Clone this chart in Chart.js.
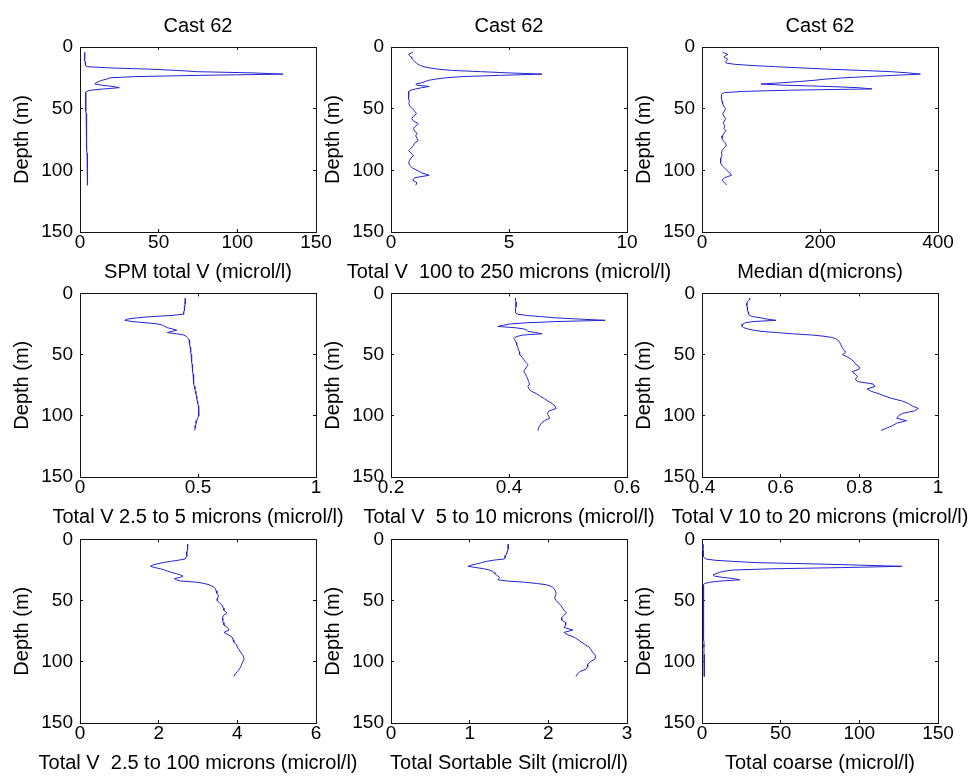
<!DOCTYPE html>
<html>
<head>
<meta charset="utf-8">
<script src="https://cdn.jsdelivr.net/npm/chart.js@4"></script>
<style>
html,body{margin:0;padding:0;background:#fff;overflow:hidden;width:969px;height:776px;position:relative;}
canvas{position:absolute;}
</style>
</head>
<body>
<script>
// ---- data (depth in m) ----
const depths = [4,5,6,7,8,9,10,11,12,13,14,15,16,17,18,19,20,21,22,23,24,25,26,27,28,29,30,31,32,33,34,35,36,37,38,39,40,
  42,44,46,48,50,52,54,56,58,60,62,64,66,68,70,72,74,76,78,80,82,84,86,88,90,92,94,96,98,100,102,104,106,108,110,112];

const spmTotal = [3.2,3,2.8,2.8,2.9,3,3,3.1,3.2,3.3,3.5,3.8,4.5,20,45,62,74,110,129,76,35,19,17,14,12,10,9.5,14,21,25,15,7,4,3.6,3.5,3.5,3.5,
  3.6,3.6,3.7,3.7,3.8,3.8,3.9,3.9,4,4,4,4.1,4.1,4.2,4.2,4.2,4.3,4.3,4.3,4.4,4.4,4.4,4.5,4.5,4.5,4.6,4.6,4.6,4.7,4.7,4.8,4.8,4.9,4.9,5,5];

const vol100to250 = [0.94,0.85,0.75,0.78,0.85,0.88,0.92,0.97,1.02,1.08,1.15,1.25,1.4,1.65,2.0,2.6,3.8,5.0,6.4,4.6,3.0,2.3,1.9,1.6,1.45,1.3,1.05,1.1,1.62,1.3,1.05,0.85,0.75,0.73,0.75,0.75,0.76,
  0.74,0.78,0.76,0.8,0.9,1.0,1.08,0.95,0.88,0.95,1.15,1.05,0.95,1.0,1.1,1.05,1.1,1.15,1.0,0.95,0.85,0.75,0.85,0.95,0.85,0.78,0.75,0.8,0.9,1.1,1.3,1.62,1.0,0.92,1.1,1.05];

const medianD = [35,38,44,40,37,40,44,42,40,41,55,85,125,170,215,270,320,350,370,325,280,240,210,190,165,135,100,140,215,265,288,150,70,38,34,33,33,
  33,34,35,37,40,38,35,37,40,38,36,39,37,41,37,35,34,36,40,41,37,34,33,34,32,31,32,34,38,42,47,50,38,34,38,42];

const vol2p5to5 = [0.447,0.447,0.446,0.446,0.445,0.445,0.444,0.444,0.443,0.442,0.441,0.44,0.44,0.438,0.39,0.3,0.24,0.2,0.19,0.22,0.28,0.33,0.35,0.36,0.37,0.39,0.41,0.39,0.37,0.41,0.44,0.45,0.455,0.46,0.462,0.463,0.464,
  0.466,0.467,0.468,0.47,0.471,0.472,0.473,0.474,0.475,0.476,0.477,0.478,0.479,0.48,0.481,0.482,0.483,0.485,0.487,0.489,0.491,0.493,0.495,0.497,0.499,0.502,0.504,0.504,0.503,0.501,0.498,0.495,0.492,0.49,0.488,0.486];

const vol5to10 = [0.411,0.411,0.411,0.412,0.412,0.412,0.412,0.412,0.411,0.411,0.411,0.411,0.411,0.415,0.43,0.455,0.48,0.52,0.563,0.48,0.43,0.401,0.39,0.381,0.41,0.425,0.43,0.432,0.445,0.456,0.424,0.415,0.41,0.408,0.41,0.411,0.412,
  0.413,0.415,0.416,0.418,0.418,0.422,0.425,0.428,0.432,0.43,0.427,0.425,0.428,0.43,0.432,0.433,0.435,0.432,0.434,0.438,0.447,0.453,0.46,0.466,0.473,0.478,0.48,0.468,0.465,0.467,0.469,0.46,0.455,0.452,0.45,0.449];

const vol10to20 = [0.522,0.521,0.518,0.515,0.514,0.514,0.514,0.515,0.515,0.516,0.516,0.517,0.518,0.519,0.521,0.53,0.55,0.565,0.588,0.53,0.51,0.504,0.502,0.502,0.506,0.516,0.53,0.55,0.59,0.63,0.68,0.71,0.73,0.74,0.745,0.748,0.75,
  0.753,0.756,0.76,0.765,0.757,0.77,0.78,0.787,0.791,0.8,0.799,0.782,0.79,0.795,0.79,0.795,0.835,0.84,0.82,0.83,0.85,0.865,0.885,0.91,0.925,0.935,0.95,0.94,0.91,0.9,0.895,0.92,0.895,0.885,0.87,0.855];

const vol2p5to100 = [2.74,2.74,2.74,2.73,2.73,2.73,2.72,2.72,2.72,2.71,2.7,2.69,2.68,2.5,2.3,2.1,1.96,1.85,1.79,1.9,2.05,2.15,2.23,2.33,2.45,2.55,2.62,2.55,2.4,2.45,2.55,2.98,3.15,3.28,3.34,3.4,3.44,
  3.46,3.48,3.52,3.5,3.49,3.55,3.62,3.64,3.66,3.74,3.65,3.62,3.63,3.64,3.66,3.75,3.79,3.66,3.78,3.87,3.89,3.91,3.98,4.0,4.04,4.08,4.13,4.16,4.17,4.14,4.11,4.09,4.05,4.0,3.95,3.91];

const sortableSilt = [1.49,1.49,1.49,1.49,1.49,1.48,1.48,1.47,1.47,1.46,1.45,1.45,1.44,1.3,1.21,1.15,1.09,1.02,0.98,1.08,1.18,1.25,1.29,1.31,1.32,1.34,1.36,1.38,1.37,1.36,1.48,1.7,1.85,1.97,2.02,2.05,2.07,
  2.09,2.1,2.09,2.08,2.1,2.13,2.16,2.18,2.2,2.23,2.2,2.17,2.17,2.22,2.22,2.2,2.31,2.2,2.25,2.33,2.38,2.42,2.47,2.52,2.54,2.56,2.59,2.6,2.59,2.53,2.5,2.5,2.48,2.4,2.37,2.35];

const totalCoarse = [0.6,0.6,0.6,0.6,0.6,0.7,0.7,0.8,0.9,1,1.2,1.5,2.5,8,20,35,70,100,127,90,45,20,14,11,9,7,8,13,20,24,12,5,1.7,1,0.8,0.8,0.8,
  0.8,0.9,0.8,0.9,1,0.9,1,1.1,1,0.9,1,1.1,1,1.1,1.2,1.1,1,1.1,1.2,1.1,1.2,1.3,1.2,1.2,1.3,1.2,1.3,1.4,1.3,1.4,1.5,1.6,1.4,1.5,1.5,1.6];

// ---- tick labels ----
const depthTicks = [0, 50, 100, 150];
const ticksSpm = [0, 50, 100, 150];
const ticks100to250 = [0, 5, 10];
const ticksMedian = [0, 200, 400];
const ticks2p5to5 = [0, 0.5, 1];
const ticks5to10 = [0.2, 0.4, 0.6];
const ticks10to20 = [0.4, 0.6, 0.8, 1];
const ticks2p5to100 = [0, 2, 4, 6];
const ticksSilt = [0, 1, 2, 3];
const ticksCoarse = [0, 50, 100, 150];

// ---- text ----
const castTitle = "Cast 62";
const depthLabel = "Depth (m)";
const xLabels = [
  "SPM total V (microl/l)",
  "Total V  100 to 250 microns (microl/l)",
  "Median d(microns)",
  "Total V 2.5 to 5 microns (microl/l)",
  "Total V  5 to 10 microns (microl/l)",
  "Total V 10 to 20 microns (microl/l)",
  "Total V  2.5 to 100 microns (microl/l)",
  "Total Sortable Silt (microl/l)",
  "Total coarse (microl/l)"
];

const series = [spmTotal, vol100to250, medianD, vol2p5to5, vol5to10, vol10to20, vol2p5to100, sortableSilt, totalCoarse];
const xTickSets = [ticksSpm, ticks100to250, ticksMedian, ticks2p5to5, ticks5to10, ticks10to20, ticks2p5to100, ticksSilt, ticksCoarse];

// ---- layout ----
const colLeft = [80, 391, 702];
const rowTop = [47, 292, 538];
const AX_W = 236, AX_H = 185, Y_W = 80, R_W = 80, X_H = 28, SUB_H = 27, TOP_PAD = 20;
const LINE = '#2424d0';
const AXIS = '#111';
const TICK_IN = -3;
const FONT = '"Liberation Sans", Arial, Helvetica, sans-serif';

Chart.defaults.font.family = FONT;
Chart.defaults.color = '#000';

const fmt = v => String(Math.round(v * 1000) / 1000);
const gridOpts = () => ({display: true, drawOnChartArea: false, drawTicks: true, tickLength: TICK_IN, tickColor: AXIS, tickWidth: 1, color: AXIS, lineWidth: 1});
const borderOpts = () => ({display: true, color: AXIS, width: 1});

for (let i = 0; i < 9; i++) {
  const r = Math.floor(i / 3), c = i % 3;
  const topPart = r === 0 ? 47 : TOP_PAD;
  const cv = document.createElement('canvas');
  const W = Y_W + AX_W + R_W;
  const H = topPart + AX_H + X_H + SUB_H;
  cv.width = W; cv.height = H;
  cv.style.left = (colLeft[c] - Y_W) + 'px';
  cv.style.top = (rowTop[r] - topPart) + 'px';
  cv.style.width = W + 'px'; cv.style.height = H + 'px';
  document.body.appendChild(cv);

  const vals = series[i];
  const xt = xTickSets[i];
  const pts = depths.map((d, k) => ({x: vals[k], y: d}));

  new Chart(cv, {
    type: 'scatter',
    data: {
      datasets: [{
        data: pts,
        showLine: true,
        borderColor: LINE,
        backgroundColor: LINE,
        borderWidth: 1,
        pointRadius: 0,
        tension: 0
      }]
    },
    options: {
      responsive: false,
      animation: false,
      devicePixelRatio: 1,
      events: [],
      layout: {padding: {left: 0, right: 0, top: r === 0 ? 0 : TOP_PAD, bottom: 0}},
      plugins: {
        legend: {display: false},
        tooltip: {enabled: false},
        title: {
          display: r === 0,
          text: castTitle,
          position: 'top',
          font: {size: 20, weight: 'normal', family: FONT},
          color: '#000',
          padding: {top: 14.5, bottom: 8.5}
        },
        subtitle: {
          display: true,
          text: xLabels[i],
          position: 'bottom',
          font: {size: 20, weight: 'normal', family: FONT},
          color: '#000',
          padding: {top: 0, bottom: 3}
        }
      },
      scales: {
        x: {
          type: 'linear',
          position: 'bottom',
          min: xt[0],
          max: xt[xt.length - 1],
          grid: gridOpts(),
          border: borderOpts(),
          ticks: {font: {size: 19}, color: '#000', padding: 2, maxRotation: 0, autoSkip: false, callback: v => fmt(v)},
          afterBuildTicks: s => { s.ticks = xt.map(v => ({value: v})); },
          afterFit: s => { s.height = X_H; }
        },
        xT: {
          type: 'linear',
          position: 'top',
          min: xt[0],
          max: xt[xt.length - 1],
          grid: gridOpts(),
          border: borderOpts(),
          ticks: {display: false},
          afterBuildTicks: s => { s.ticks = xt.map(v => ({value: v})); },
          afterFit: s => { s.height = 0; }
        },
        y: {
          type: 'linear',
          position: 'left',
          reverse: true,
          min: depthTicks[0],
          max: depthTicks[depthTicks.length - 1],
          grid: gridOpts(),
          border: borderOpts(),
          ticks: {font: {size: 19}, color: '#000', padding: 10, autoSkip: false, callback: v => fmt(v)},
          afterBuildTicks: s => { s.ticks = depthTicks.map(v => ({value: v})); },
          title: {display: true, text: depthLabel, font: {size: 20}, color: '#000', padding: {top: 10.5, bottom: 0}},
          afterFit: s => { s.width = Y_W; }
        },
        yR: {
          type: 'linear',
          position: 'right',
          reverse: true,
          min: depthTicks[0],
          max: depthTicks[depthTicks.length - 1],
          grid: gridOpts(),
          border: borderOpts(),
          ticks: {display: false},
          afterBuildTicks: s => { s.ticks = depthTicks.map(v => ({value: v})); },
          afterFit: s => { s.width = R_W; }
        }
      }
    }
  });
}
</script>
</body>
</html>
